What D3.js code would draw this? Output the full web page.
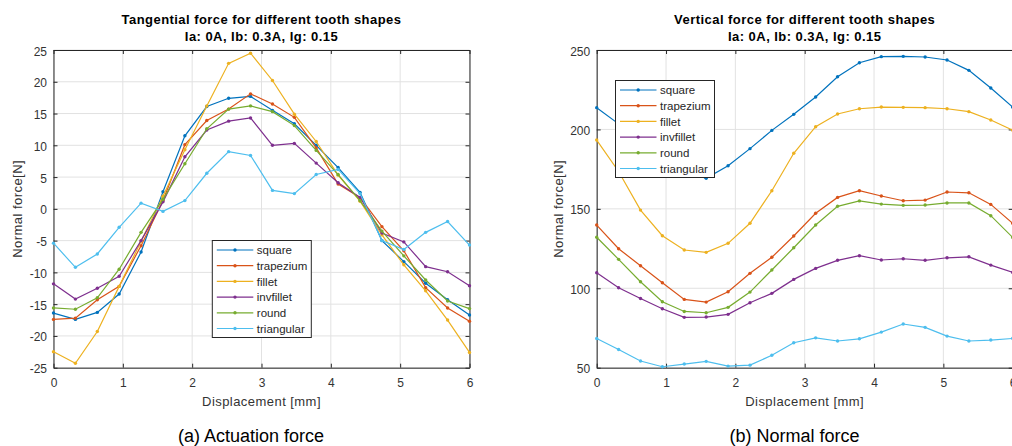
<!DOCTYPE html>
<html>
<head>
<meta charset="utf-8">
<script src="https://cdn.jsdelivr.net/npm/d3@7"></script>
<style>
  body { margin: 0; background: #fff; }
  svg { display: block; font-family: "Liberation Sans", Arial, sans-serif; }
</style>
</head>
<body>
<div id="chart"></div>
<script>
// displacement samples [mm]
var displacement = [0, 0.316, 0.632, 0.947, 1.263, 1.579, 1.895, 2.211, 2.526, 2.842,
                    3.158, 3.474, 3.789, 4.105, 4.421, 4.737, 5.053, 5.368, 5.684, 6.0];
var shapes = ["square", "trapezium", "fillet", "invfillet", "round", "triangular"];

// tangential force [N]
var tangSquare     = [-16.4, -17.4, -16.3, -13.4, -6.8, 2.7, 11.5, 16.1, 17.4, 17.7, 15.5, 13.4, 10.0, 6.5, 2.6, -5.0, -8.3, -11.7, -14.3, -16.7];
var tangTrapezium  = [-17.4, -17.2, -14.3, -12.2, -5.8, 1.3, 10.1, 13.9, 15.7, 18.1, 16.5, 14.4, 9.6, 3.9, 1.8, -2.8, -6.6, -12.4, -15.6, -17.7];
var tangFillet     = [-22.5, -24.3, -19.3, -12.2, -5.1, 2.0, 9.3, 16.2, 22.9, 24.5, 20.2, 14.9, 10.6, 5.3, 1.2, -4.1, -8.8, -12.9, -17.5, -22.6];
var tangInvfillet  = [-11.8, -14.2, -12.5, -10.6, -5.0, 1.1, 8.2, 12.4, 13.8, 14.3, 10.0, 10.3, 7.2, 4.1, 1.8, -3.8, -5.2, -9.1, -9.9, -12.1];
var tangRound      = [-15.6, -15.8, -14.0, -9.5, -3.7, 1.5, 7.1, 12.6, 15.7, 16.2, 15.3, 13.1, 9.2, 5.4, 1.3, -3.5, -7.4, -11.2, -14.5, -15.7];
var tangTriangular = [-5.4, -9.2, -7.1, -2.9, 0.9, -0.4, 1.3, 5.6, 9.0, 8.4, 2.9, 2.4, 5.4, 6.2, 2.4, -5.0, -6.4, -3.7, -2.0, -5.7];

// vertical force [N]
var vertSquare     = [213.7, 203.5, 193, 183, 174, 169.2, 177.1, 187.9, 199.4, 209.5, 220.4, 233.2, 242.0, 245.8, 246.0, 245.6, 243.7, 237.2, 226.1, 214.0];
var vertTrapezium  = [139.8, 124.9, 114.2, 103.5, 93.0, 91.3, 97.8, 109.4, 119.5, 132.9, 147.2, 157.2, 161.4, 158.1, 155.1, 155.5, 160.6, 160.1, 152.8, 140.9];
var vertFillet     = [193.3, 173.5, 149.2, 133.1, 124.1, 122.6, 128.3, 140.9, 161.4, 185.0, 201.7, 209.7, 213.0, 214.1, 213.9, 213.7, 213.0, 211.2, 205.9, 199.5];
var vertInvfillet  = [109.8, 100.3, 93.6, 87.1, 81.7, 81.9, 83.6, 90.9, 96.8, 105.6, 112.5, 117.6, 120.5, 117.8, 118.6, 117.6, 119.2, 119.8, 114.6, 110.0];
var vertRound      = [132.1, 118.2, 104.1, 91.5, 85.4, 84.6, 88.0, 97.6, 111.5, 125.5, 139.8, 151.6, 155.0, 153.0, 152.2, 152.4, 153.7, 153.7, 145.7, 132.0];
var vertTriangular = [68.4, 61.5, 54.2, 50.6, 52.3, 54.0, 51.0, 51.6, 57.8, 65.7, 68.8, 66.8, 68.2, 72.4, 77.5, 75.4, 69.9, 66.8, 67.4, 68.4];

// ticks
var xTicks = [0, 1, 2, 3, 4, 5, 6];
var tangTicks = [-25, -20, -15, -10, -5, 0, 5, 10, 15, 20, 25];
var vertTicks = [50, 100, 150, 200, 250];

var colors = ["#0072BD", "#D95319", "#EDB120", "#7E2F8E", "#77AC30", "#4DBEEE"];

var svg = d3.select("#chart").append("svg")
    .attr("width", 1012)
    .attr("height", 446);

svg.append("rect").attr("width", 1012).attr("height", 446).attr("fill", "#fff");

// plain number labels, hyphen minus like the original
function plain(d) { return String(d); }

function drawPanel(cfg) {
  var w = 416, h = 317.7;
  var g = svg.append("g").attr("transform", "translate(" + cfg.left + "," + cfg.top + ")");

  var x = d3.scaleLinear().domain([0, 6]).range([0, w]);
  var y = d3.scaleLinear().domain(cfg.yDomain).range([h, 0]);

  // grid
  g.append("g").selectAll("line").data(xTicks).join("line")
    .attr("x1", function(d) { return x(d); }).attr("x2", function(d) { return x(d); })
    .attr("y1", 0).attr("y2", h)
    .attr("stroke", "#e2e2e2").attr("stroke-width", 1);
  g.append("g").selectAll("line").data(cfg.yTicks).join("line")
    .attr("y1", function(d) { return y(d); }).attr("y2", function(d) { return y(d); })
    .attr("x1", 0).attr("x2", w)
    .attr("stroke", "#e2e2e2").attr("stroke-width", 1);

  // axes (ticks inside, box on)
  g.append("g").attr("transform", "translate(0," + h + ")")
    .call(d3.axisBottom(x).tickValues(xTicks).tickFormat(plain)
      .tickSizeInner(-4).tickSizeOuter(0).tickPadding(11));
  var left = g.append("g")
    .call(d3.axisLeft(y).tickValues(cfg.yTicks).tickFormat(plain)
      .tickSizeInner(-4).tickSizeOuter(0).tickPadding(6.5));
  g.append("g")
    .call(d3.axisTop(x).tickValues(xTicks).tickSizeInner(-4).tickSizeOuter(0).tickFormat(""));
  g.append("g").attr("transform", "translate(" + w + ",0)")
    .call(d3.axisRight(y).tickValues(cfg.yTicks).tickSizeInner(-4).tickSizeOuter(0).tickFormat(""));

  g.selectAll(".domain").attr("stroke", "#262626").attr("stroke-width", 1);
  g.selectAll(".tick line").attr("stroke", "#262626");
  g.selectAll(".tick text").attr("font-size", "12px").attr("fill", "#333")
    .attr("font-family", "Liberation Sans, Arial, sans-serif");
  left.selectAll(".tick text").attr("dy", "0.42em");

  // series
  var line = d3.line()
    .x(function(d, i) { return x(displacement[i]); })
    .y(function(d) { return y(d); });

  cfg.series.forEach(function(vals, k) {
    g.append("path").datum(vals)
      .attr("d", line)
      .attr("fill", "none")
      .attr("stroke", colors[k])
      .attr("stroke-width", 1.2);
    g.append("g").selectAll("circle").data(vals).join("circle")
      .attr("cx", function(d, i) { return x(displacement[i]); })
      .attr("cy", function(d) { return y(d); })
      .attr("r", 1.7)
      .attr("fill", colors[k]);
  });

  // titles
  var cx = cfg.left + w / 2;
  svg.append("text").attr("x", cx).attr("y", 24)
    .attr("text-anchor", "middle").attr("font-size", "13px").attr("font-weight", "bold")
    .attr("letter-spacing", "0.45px").attr("fill", "#000").text(cfg.title);
  svg.append("text").attr("x", cx).attr("y", 41)
    .attr("text-anchor", "middle").attr("font-size", "13px").attr("font-weight", "bold")
    .attr("letter-spacing", "0.45px").attr("fill", "#000").text("Ia: 0A, Ib: 0.3A, Ig: 0.15");

  // axis labels
  svg.append("text").attr("x", cx).attr("y", 406)
    .attr("text-anchor", "middle").attr("font-size", "13px").attr("letter-spacing", "0.45px")
    .attr("fill", "#333").text("Displacement [mm]");
  svg.append("text")
    .attr("transform", "translate(" + cfg.ylabelX + "," + (cfg.top + h / 2) + ") rotate(-90)")
    .attr("text-anchor", "middle").attr("font-size", "13px").attr("letter-spacing", "0.45px")
    .attr("fill", "#333").text("Normal force[N]");

  // caption
  svg.append("text").attr("x", cfg.captionX).attr("y", 442)
    .attr("text-anchor", "middle").attr("font-size", "18px").attr("fill", "#000")
    .text(cfg.caption);

  // legend
  var lg = svg.append("g").attr("transform", "translate(" + cfg.legendX + "," + cfg.legendY + ")");
  lg.append("rect").attr("width", 99).attr("height", 97)
    .attr("fill", "#fff").attr("stroke", "#262626").attr("stroke-width", 1);
  shapes.forEach(function(name, k) {
    var ly = 9.5 + k * 15.7;
    lg.append("line").attr("x1", 4.5).attr("x2", 41).attr("y1", ly).attr("y2", ly)
      .attr("stroke", colors[k]).attr("stroke-width", 1.2);
    lg.append("circle").attr("cx", 22.7).attr("cy", ly).attr("r", 1.7).attr("fill", colors[k]);
    lg.append("text").attr("x", 44.5).attr("y", ly + 4.2)
      .attr("font-size", "11.5px").attr("fill", "#262626").text(name);
  });
}

drawPanel({
  left: 53.5, top: 50,
  yDomain: [-25, 25], yTicks: tangTicks,
  series: [tangSquare, tangTrapezium, tangFillet, tangInvfillet, tangRound, tangTriangular],
  title: "Tangential force for different tooth shapes",
  caption: "(a) Actuation force", captionX: 251,
  ylabelX: 22,
  legendX: 212.3, legendY: 240.5
});

drawPanel({
  left: 596.7, top: 50,
  yDomain: [50, 250], yTicks: vertTicks,
  series: [vertSquare, vertTrapezium, vertFillet, vertInvfillet, vertRound, vertTriangular],
  title: "Vertical force for different tooth shapes",
  caption: "(b) Normal force", captionX: 794.5,
  ylabelX: 562.5,
  legendX: 615.5, legendY: 80.5
});
</script>
</body>
</html>
